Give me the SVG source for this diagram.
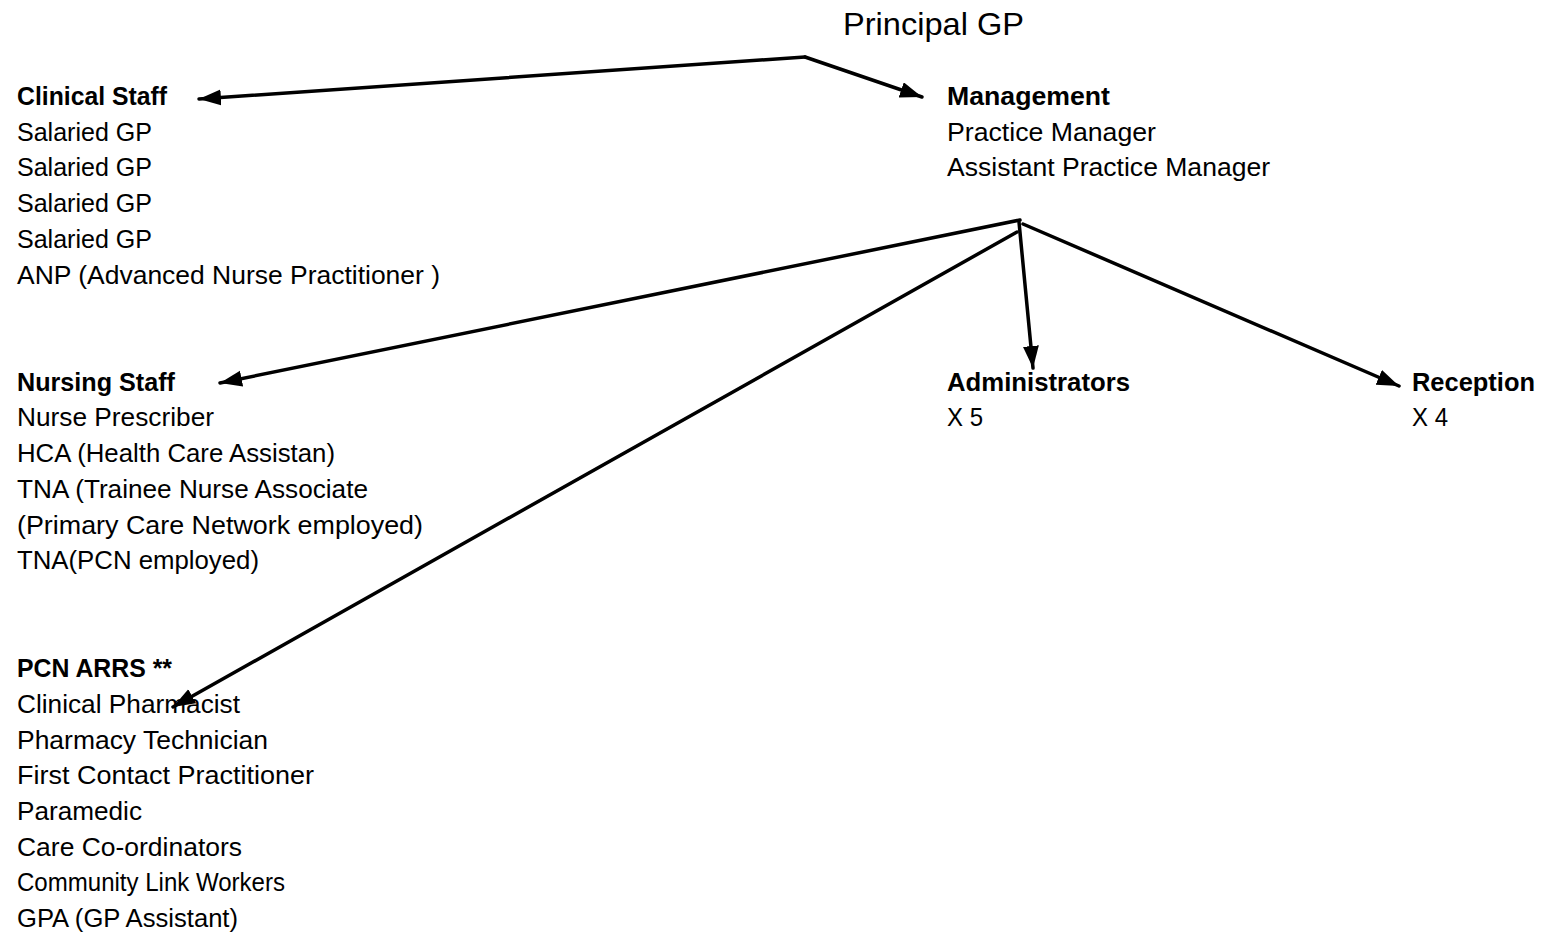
<svg xmlns="http://www.w3.org/2000/svg" width="1542" height="936" viewBox="0 0 1542 936">
<style>
text{font-family:"Liberation Sans",Arial,sans-serif;font-size:26px;fill:#000}
.b{font-weight:bold}
.t{font-size:32px}
.c{stroke:#000;stroke-width:3.5;fill:none;stroke-linecap:round}
</style>
<defs>
<marker id="ah" markerUnits="userSpaceOnUse" markerWidth="24" markerHeight="18" refX="22" refY="8" orient="auto">
<path d="M0,0 L22,8 L0,16 z" fill="#000"/>
</marker>
</defs>
<rect width="1542" height="936" fill="#fff"/>
<g id="connectors">
<line class="c" x1="805" y1="57" x2="199" y2="99" marker-end="url(#ah)"/>
<line class="c" x1="805" y1="57" x2="922" y2="97" marker-end="url(#ah)"/>
<line class="c" x1="1020" y1="220" x2="220" y2="383" marker-end="url(#ah)"/>
<line class="c" x1="1017" y1="232" x2="173" y2="707" marker-end="url(#ah)"/>
<line class="c" x1="1019" y1="222" x2="1033" y2="368" marker-end="url(#ah)"/>
<line class="c" x1="1023" y1="224" x2="1399" y2="386" marker-end="url(#ah)"/>
</g>
<g id="principal">
<text class="t" x="843" y="35" textLength="181" lengthAdjust="spacingAndGlyphs">Principal GP</text>
</g>
<g id="clinical">
<text class="b" x="17" y="105" textLength="150" lengthAdjust="spacingAndGlyphs">Clinical Staff</text>
<text x="17" y="141" textLength="135" lengthAdjust="spacingAndGlyphs">Salaried GP</text>
<text x="17" y="176" textLength="135" lengthAdjust="spacingAndGlyphs">Salaried GP</text>
<text x="17" y="212" textLength="135" lengthAdjust="spacingAndGlyphs">Salaried GP</text>
<text x="17" y="248" textLength="135" lengthAdjust="spacingAndGlyphs">Salaried GP</text>
<text x="17" y="284" textLength="423" lengthAdjust="spacingAndGlyphs">ANP (Advanced Nurse Practitioner )</text>
</g>
<g id="nursing">
<text class="b" x="17" y="391" textLength="158" lengthAdjust="spacingAndGlyphs">Nursing Staff</text>
<text x="17" y="426" textLength="197" lengthAdjust="spacingAndGlyphs">Nurse Prescriber</text>
<text x="17" y="462" textLength="318" lengthAdjust="spacingAndGlyphs">HCA (Health Care Assistan)</text>
<text x="17" y="498" textLength="351" lengthAdjust="spacingAndGlyphs">TNA (Trainee Nurse Associate</text>
<text x="17" y="534" textLength="406" lengthAdjust="spacingAndGlyphs">(Primary Care Network employed)</text>
<text x="17" y="569" textLength="242" lengthAdjust="spacingAndGlyphs">TNA(PCN employed)</text>
</g>
<g id="pcn">
<text class="b" x="17" y="677" textLength="155" lengthAdjust="spacingAndGlyphs">PCN ARRS **</text>
<text x="17" y="713" textLength="223" lengthAdjust="spacingAndGlyphs">Clinical Pharmacist</text>
<text x="17" y="749" textLength="251" lengthAdjust="spacingAndGlyphs">Pharmacy Technician</text>
<text x="17" y="784" textLength="297" lengthAdjust="spacingAndGlyphs">First Contact Practitioner</text>
<text x="17" y="820" textLength="125" lengthAdjust="spacingAndGlyphs">Paramedic</text>
<text x="17" y="856" textLength="225" lengthAdjust="spacingAndGlyphs">Care Co-ordinators</text>
<text x="17" y="891" textLength="268" lengthAdjust="spacingAndGlyphs">Community Link Workers</text>
<text x="17" y="927" textLength="221" lengthAdjust="spacingAndGlyphs">GPA (GP Assistant)</text>
</g>
<g id="management">
<text class="b" x="947" y="105" textLength="163" lengthAdjust="spacingAndGlyphs">Management</text>
<text x="947" y="141" textLength="209" lengthAdjust="spacingAndGlyphs">Practice Manager</text>
<text x="947" y="176" textLength="323" lengthAdjust="spacingAndGlyphs">Assistant Practice Manager</text>
</g>
<g id="administrators">
<text class="b" x="947" y="391" textLength="183" lengthAdjust="spacingAndGlyphs">Administrators</text>
<text x="947" y="426" textLength="36" lengthAdjust="spacingAndGlyphs">X 5</text>
</g>
<g id="reception">
<text class="b" x="1412" y="391" textLength="123" lengthAdjust="spacingAndGlyphs">Reception</text>
<text x="1412" y="426" textLength="36" lengthAdjust="spacingAndGlyphs">X 4</text>
</g>
</svg>
